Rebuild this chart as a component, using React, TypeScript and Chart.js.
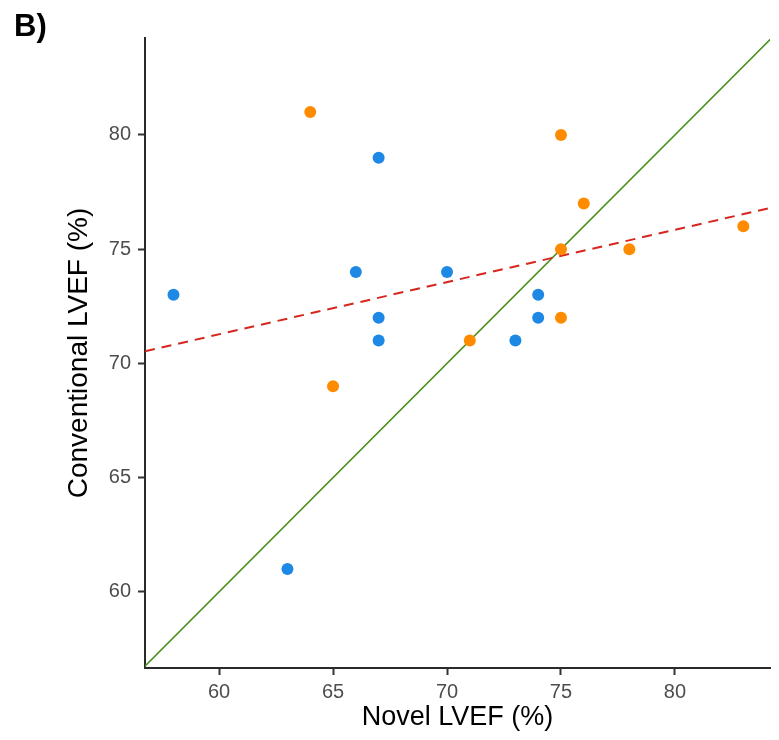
import React, { useEffect, useRef } from "react";
import { Chart, registerables } from "chart.js";

Chart.register(...registerables);

// Data
const blueX = [58, 63, 66, 67, 67, 67, 70, 73, 74, 74];
const blueY = [73, 61, 74, 79, 72, 71, 74, 71, 73, 72];
const orangeX = [64, 65, 71, 75, 75, 75, 76, 78, 83];
const orangeY = [81, 69, 71, 80, 75, 72, 77, 75, 76];
const xRange = [56.75, 84.17];
const yRange = [56.67, 84.24];
const identityX = [56.67, 84.24];
const identityY = [56.67, 84.24];
const regX = [56.75, 84.17];
const regY = [70.53, 76.8];
const tickValues = [60, 65, 70, 75, 80];
const xTitle = "Novel LVEF (%)";
const yTitle = "Conventional LVEF (%)";
const panelLabel = "B)";

const FONT = "'Liberation Sans', Arial, Helvetica, sans-serif";

export default function App() {
  const ref = useRef<HTMLCanvasElement>(null);

  useEffect(() => {
    if (!ref.current) return;
    const zip = (xs: number[], ys: number[]) => xs.map((x, i) => ({ x, y: ys[i] }));

    const labelPlugin = {
      id: "panelLabel",
      afterDraw(chart: any) {
        const ctx = chart.ctx;
        ctx.save();
        ctx.fillStyle = "#000";
        ctx.font = `bold 31px ${FONT}`;
        ctx.textBaseline = "alphabetic";
        ctx.textAlign = "left";
        ctx.fillText(panelLabel, 14, 36);
        ctx.restore();
      },
    };

    const setTicks = (scale: any) => {
      scale.ticks = tickValues.map((v) => ({ value: v }));
    };

    const chart = new Chart(ref.current, {
      type: "scatter",
      data: {
        datasets: [
          {
            type: "line",
            label: "identity",
            data: zip(identityX, identityY),
            borderColor: "#4b8f1d",
            borderWidth: 1.6,
            pointRadius: 0,
            fill: false,
            order: 3,
          } as any,
          {
            type: "line",
            label: "regression",
            data: zip(regX, regY),
            borderColor: "#d7261e",
            borderWidth: 2,
            borderDash: [10, 7],
            pointRadius: 0,
            fill: false,
            order: 2,
          } as any,
          {
            label: "Orange",
            data: zip(orangeX, orangeY),
            backgroundColor: "#ff8c00",
            borderColor: "#ff8c00",
            pointRadius: 6,
            borderWidth: 0,
            order: 1,
          },
          {
            label: "Blue",
            data: zip(blueX, blueY),
            backgroundColor: "#1e88e5",
            borderColor: "#1e88e5",
            pointRadius: 6,
            borderWidth: 0,
            order: 0,
          },
        ],
      },
      options: {
        animation: false,
        responsive: false,
        layout: { padding: { left: 58, top: 38, right: 9, bottom: 2 } },
        plugins: { legend: { display: false }, tooltip: { enabled: false } },
        scales: {
          x: {
            type: "linear",
            min: xRange[0],
            max: xRange[1],
            afterBuildTicks: setTicks,
            afterFit: (s: any) => {
              s.height = 70;
            },
            grid: {
              display: true,
              drawOnChartArea: false,
              drawTicks: true,
              tickLength: 7,
              tickWidth: 2,
              tickColor: "#333",
            },
            border: { display: true, color: "#2a2a2a", width: 2 },
            ticks: {
              color: "#4d4d4d",
              font: { family: FONT, size: 20 },
              padding: 5,
              maxRotation: 0,
            },
            title: {
              display: true,
              text: xTitle,
              color: "#000",
              font: { family: FONT, size: 27 },
              padding: { top: 4, bottom: 4 },
            },
          },
          y: {
            type: "linear",
            min: yRange[0],
            max: yRange[1],
            afterBuildTicks: setTicks,
            afterFit: (s: any) => {
              s.width = 87;
            },
            grid: {
              display: true,
              drawOnChartArea: false,
              drawTicks: true,
              tickLength: 7,
              tickWidth: 2,
              tickColor: "#333",
            },
            border: { display: true, color: "#2a2a2a", width: 2 },
            ticks: {
              color: "#4d4d4d",
              font: { family: FONT, size: 20 },
              padding: 7,
            },
            title: {
              display: true,
              text: yTitle,
              color: "#000",
              font: { family: FONT, size: 28 },
              padding: { top: 4, bottom: 4 },
            },
          },
        },
      },
      plugins: [labelPlugin],
    });
    return () => chart.destroy();
  }, []);

  return (
    <div style={{ position: "fixed", left: 0, top: 0, width: 779, height: 740, background: "#fff" }}>
      <canvas ref={ref} width={779} height={740} />
    </div>
  );
}
